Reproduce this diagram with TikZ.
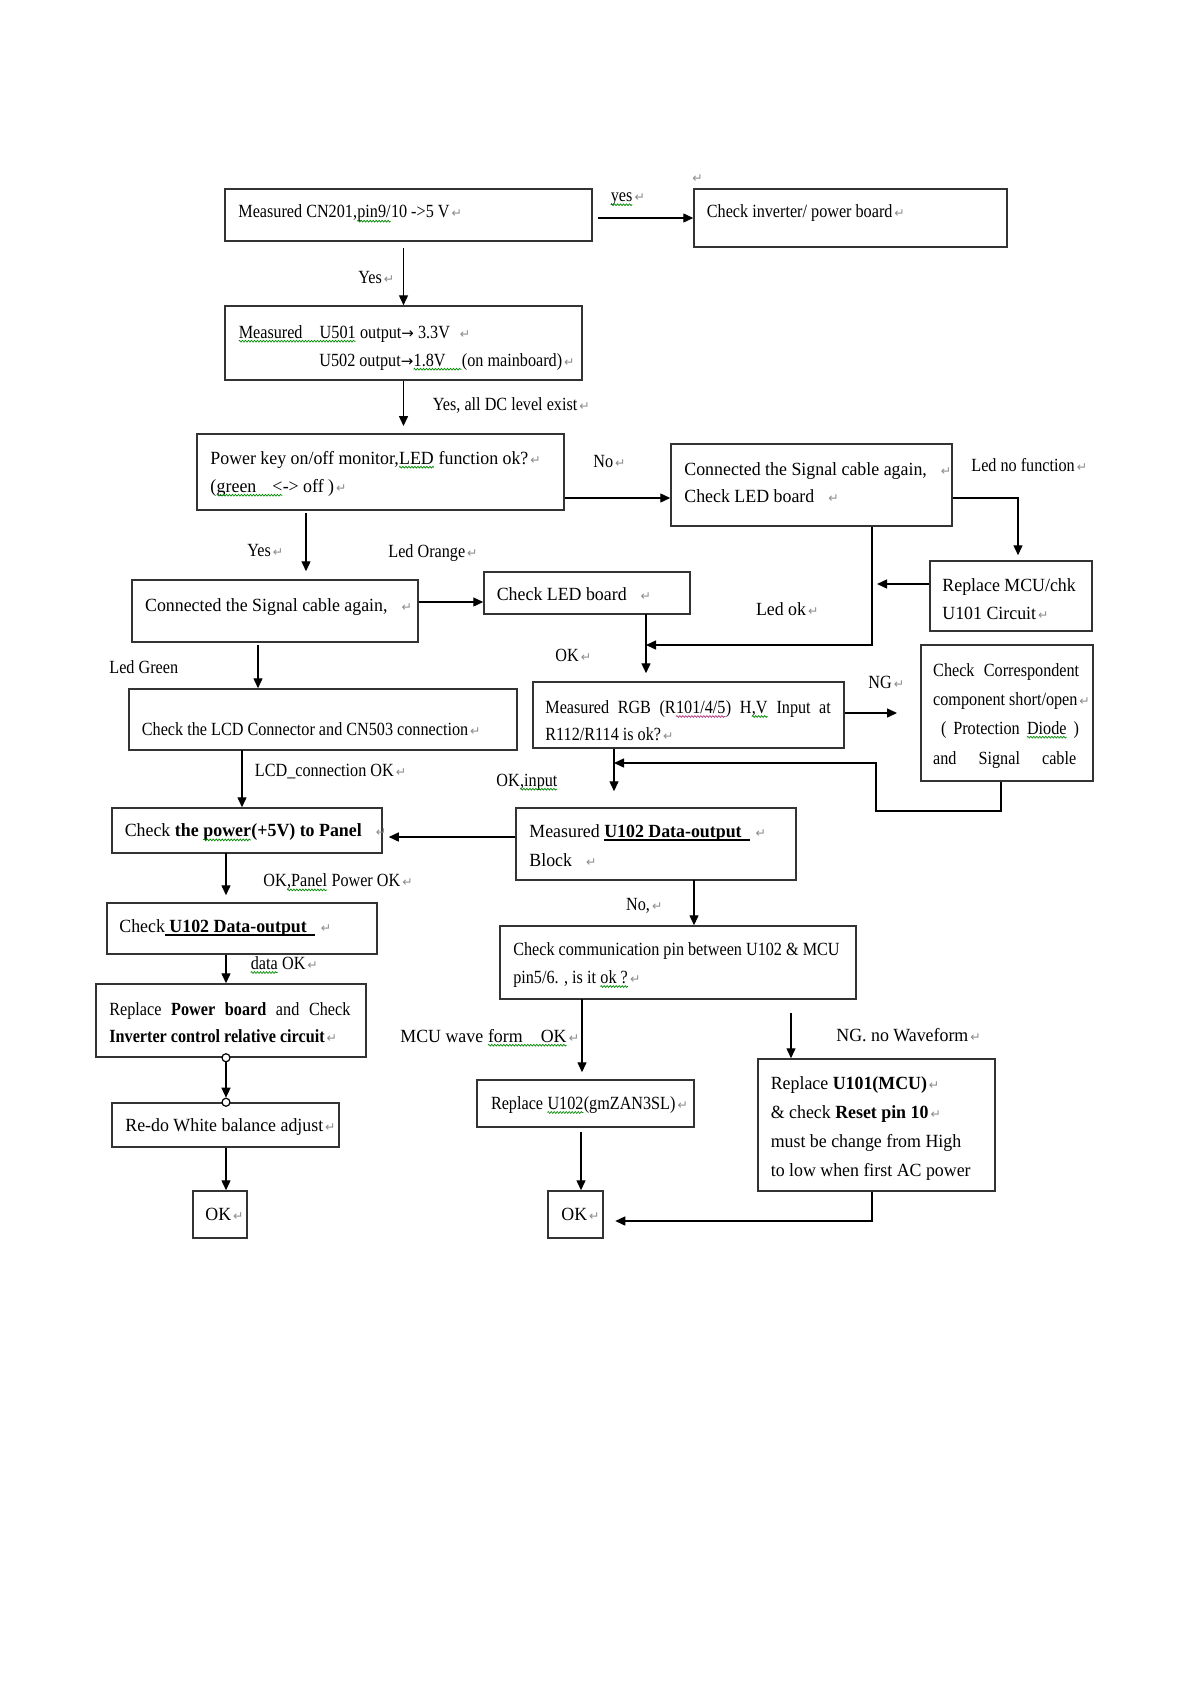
\documentclass[tikz,border=0pt]{standalone}
\usepackage{fontspec}
\setmainfont{Liberation Serif}[FakeStretch=0.87]
\newfontfamily\widefont{Liberation Serif}[FakeStretch=0.96]
\newfontfamily\symfont{DejaVu Sans}
\usetikzlibrary{arrows.meta,fit,decorations.pathmorphing}
\newcommand\pmk{\hspace{1pt}{\symfont\fontsize{6.2}{6}\selectfont\color{black!45}↵}}
\newcommand\rar{{\symfont\fontsize{7.5}{8}\selectfont →}}
\newcommand\cnd{\fontsize{9.3}{14}\selectfont}
\newcommand\wid{\widefont\fontsize{9.3}{14}\selectfont}
\newcommand\ulx[1]{\setbox0\hbox{#1}\rlap{\rule[-1.4pt]{\wd0}{0.55pt}}\box0}
\newcommand\wvc[2]{\tikz[baseline=(wv.base),x=1pt,y=1pt]{\node[inner sep=0pt,outer sep=0pt,anchor=base] (wv) {#2};
  \draw[#1, line width=0.35pt, decorate, decoration={zigzag, amplitude=0.45pt, segment length=1.5pt}] ([yshift=-1.6pt]wv.base west) -- ([yshift=-1.6pt]wv.base east);}}
\newcommand\wv[1]{\wvc{green!55!black}{#1}}
\tikzset{
  box/.style={draw=black!80, line width=0.75pt, inner sep=0pt},
  arr/.style={draw=black, line width=0.7pt, -{Triangle[length=5pt,width=4.5pt]}},
  tc/.style={inner sep=0pt, anchor=base west, font=\cnd},
  tw/.style={inner sep=0pt, anchor=base west, font=\wid},
  dot/.style={circle, draw=black, fill=white, inner sep=0pt, minimum size=4pt, line width=0.6pt}
}
\begin{document}
\begin{tikzpicture}[x=0.5pt,y=-0.5pt]
\fill[white] (0,0) rectangle (1191,1685);
\useasboundingbox (0,0) rectangle (1191,1685);
% boxes
\node[box, fit={(225,189) (592,241)}] (A) {};
\node[box, fit={(694,189) (1007,247)}] (D) {};
\node[box, fit={(225,306) (582,380)}] (B) {};
\node[box, fit={(197,434) (564,510)}] (C) {};
\node[box, fit={(671,444) (952,526)}] (E) {};
\node[box, fit={(132,580) (418,642)}] (F) {};
\node[box, fit={(484,572) (690,614)}] (G) {};
\node[box, fit={(930,561) (1092,631)}] (J) {};
\node[box, fit={(129,689) (517,750)}] (H) {};
\node[box, fit={(533,682) (844,748)}] (I) {};
\node[box, fit={(921,645) (1093,781)}] (K) {};
\node[box, fit={(112,808) (382,853)}] (M) {};
\node[box, fit={(516,808) (796,880)}] (L) {};
\node[box, fit={(107,903) (377,954)}] (N) {};
\node[box, fit={(500,926) (856,999)}] (Q) {};
\node[box, fit={(96,984) (366,1057)}] (O) {};
\node[box, fit={(477,1080) (694,1127)}] (R) {};
\node[box, fit={(758,1059) (995,1191)}] (S) {};
\node[box, fit={(112,1103) (339,1147)}] (P) {};
\node[box, fit={(193,1191) (247,1238)}] (T) {};
\node[box, fit={(548,1191) (603,1238)}] (U) {};
% helper coordinates
\coordinate (cE) at (872,645);
\coordinate (gi) at (646,614);
\coordinate (ng) at (897,713);
\coordinate (kl) at (876,811);
\coordinate (il) at (614,763);
\coordinate (cf) at (306,510);
\coordinate (fh) at (258,642);
\coordinate (hm) at (242,750);
\coordinate (mn) at (226,853);
\coordinate (lq) at (694,880);
\coordinate (qr) at (582,999);
\coordinate (ss) at (791,1013);
\coordinate (ru) at (581,1127);
% connectors
\draw[arr, shorten <=2.9pt] (A.south -| B.north) -- (B.north);
\draw[arr, shorten <=2.5pt] (A.east |- D.west) -- (D.west);
\draw[arr, shorten >=3.6pt] (B.south) -- (B.south |- C.north);
\draw[arr] ([yshift=-13pt]C.east) -- ([yshift=-13pt]C.east -| E.west);
\draw[arr, shorten >=2.5pt] ([yshift=-6.5pt]E.east) -| ([xshift=3.5pt]J.north);
\draw[arr] (E.south -| cE) -- (cE) -- (cE -| gi);
\draw[arr, shorten >=2.5pt] ([yshift=6pt]J.west) -- ([yshift=6pt]J.west -| cE);
\draw[arr, shorten >=4pt] (gi) -- (gi |- I.north);
\draw[arr] (I.east |- ng) -- (ng);
\draw[arr] ([xshift=-3pt]K.south) |- (kl) -- (kl |- il) -- (il);
\draw[arr, shorten >=8pt] (I.south -| il) -- (L.north -| il);
\draw[arr] ([yshift=4.5pt]F.east) -- ([yshift=4.5pt]F.east -| G.west);
\draw[arr, shorten <=1.5pt, shorten >=4pt] (cf) -- (cf |- F.north);
\draw[arr, shorten <=1.5pt] (fh) -- (fh |- H.north);
\draw[arr] (hm) -- (hm |- M.north);
\draw[arr, shorten >=3pt] ([yshift=3.5pt]L.west) -- ([yshift=3.5pt]L.west -| M.east);
\draw[arr, shorten >=3.5pt] (mn) -- (mn |- N.north);
\draw[arr] (N.south -| mn) -- (O.north -| mn);
\node[dot] (c1) at (O.south -| mn) {};
\node[dot] (c2) at (P.north -| mn) {};
\draw[arr] (c1) -- (c2);
\draw[arr] (P.south -| mn) -- (T.north -| mn);
\draw[arr] (lq) -- (lq |- Q.north);
\draw[arr, shorten >=3.5pt] (qr) -- (qr |- R.north);
\draw[arr] (ss) -- (ss |- S.north);
\draw[arr, shorten <=2.5pt] (ru) -- (ru |- U.north);
\draw[arr, shorten >=5.75pt] ([xshift=-2.25pt]S.south) |- ([yshift=-3.25pt]U.east);
% texts
\node[tc] (tA) at (238,218) {Measured CN201,\wv{pin9/}10 ->5 V\pmk};
\node[tc] (lyes) at (610,201.5) {\wv{yes}\pmk};
\node[tc] (pmD) at (690,183) {\pmk};
\node[tc] (tD) at (706.5,218) {Check inverter/ power board\pmk};
\node[tc] (lY1) at (358,284) {Yes\pmk};
\node[tc] (tB1) at (238,338) {\wv{\makebox[40.5pt][l]{Measured}U501} output\rar\ 3.3V\hspace{4pt}\pmk};
\node[tc] (tB2) at (319,366) {U502 output\rar\wv{1.8V\kern8pt}(on mainboard)\pmk};
\node[tc] (lY2) at (432.5,410) {Yes, all DC level exist\pmk};
\node[tw] (tC1) at (210,464) {Power key on/off monitor,\wv{LED} function ok?\pmk};
\node[tw] (tC2) at (210,492) {(\wv{green\kern8pt<}-> off )\pmk};
\node[tc] (lNo) at (593,467) {No\pmk};
\node[tw] (tE1) at (684,475) {Connected the Signal cable again,\hspace{6pt}\pmk};
\node[tw] (tE2) at (684,502.7) {Check LED board\hspace{6pt}\pmk};
\node[tc] (lLnf) at (971,471.7) {Led no function\pmk};
\node[tc] (lY3) at (247,556.7) {Yes\pmk};
\node[tc] (lLo) at (388,557.3) {Led Orange\pmk};
\node[tw] (tF) at (144.7,611) {Connected the Signal cable again,\hspace{6pt}\pmk};
\node[tw] (tG) at (496.4,600.7) {Check LED board\hspace{6pt}\pmk};
\node[tw] (tJ1) at (942,591) {Replace MCU/chk};
\node[tw] (tJ2) at (942,619.3) {U101 Circuit\pmk};
\node[tw] (lLok) at (755.6,615) {Led ok\pmk};
\node[tc] (lLg) at (109,673.3) {Led Green};
\node[tc] (lOK1) at (555,661.7) {OK\pmk};
\node[tc] (tI1) at (545,713.3) {\makebox[142.75pt][s]{Measured RGB (R\wvc{magenta!70!black}{101/4/5}) H\wv{,V} Input at}};
\node[tc] (tI2) at (545,740.7) {R112/R114 is ok?\pmk};
\node[tc] (lNG) at (868,688.3) {NG\pmk};
\node[tc] (tK1) at (932.8,676) {\makebox[73pt][s]{Check Correspondent}};
\node[tc] (tK2) at (932.8,705.3) {component short/open\pmk};
\node[tc] (tK3) at (940.7,734) {\makebox[69pt][s]{( Protection \wv{Diode} )}};
\node[tc] (tK4) at (932.8,764.3) {\makebox[71.5pt][s]{and Signal cable}};
\node[tc] (tH) at (141.5,735.5) {Check the LCD Connector and CN503 connection\pmk};
\node[tc] (lLCD) at (254.5,776.7) {LCD\_connection OK\pmk};
\node[tc] (lOKin) at (496,786) {OK\wv{,input}};
\node[tw] (tM) at (124.4,836.7) {Check \textbf{the \wv{power}(+5V) to Panel}\hspace{6pt}\pmk};
\node[tw] (tL1) at (529,837.7) {Measured \ulx{\textbf{U102 Data-output}\kern4pt}\hspace{2pt}\pmk};
\node[tw] (tL2) at (529,866) {Block\hspace{6pt}\pmk};
\node[tc] (lOKp) at (263,886.7) {OK\wv{,Panel} Power OK\pmk};
\node[tw] (tN) at (119,932.7) {Check\ulx{\ \textbf{U102 Data-output}\kern4pt}\hspace{2pt}\pmk};
\node[tc] (lNo2) at (625.8,910) {No,\pmk};
\node[tc] (tQ1) at (512.9,955.7) {Check communication pin between U102 \& MCU};
\node[tc] (tQ2) at (512.9,983.3) {pin5/6. , is it \wv{ok ?}\pmk};
\node[tc] (ldata) at (250,969.3) {\wv{data} OK\pmk};
\node[tc] (tO1) at (109,1015) {\makebox[120.5pt][s]{Replace \textbf{Power board} and Check}};
\node[tc] (tO2) at (109,1042.7) {\textbf{Inverter control relative circuit}\pmk};
\node[tw] (lMCU) at (400,1042) {MCU wave \wv{form\kern9pt OK}\pmk};
\node[tw] (lNGw) at (836,1041.7) {NG. no Waveform\pmk};
\node[tc] (tR) at (490.6,1109.3) {Replace \wv{U102}(gmZAN3SL)\pmk};
\node[tw] (tS1) at (770.4,1089.3) {Replace \textbf{U101(MCU)}\pmk};
\node[tw] (tS2) at (770.4,1118.3) {\& check \textbf{Reset pin 10}\pmk};
\node[tw] (tS3) at (770.4,1147.7) {must be change from High};
\node[tw] (tS4) at (770.4,1176) {to low when first AC power};
\node[tw] (tP) at (125,1131) {Re-do White balance adjust\pmk};
\node[tw] (tT) at (205,1220) {OK\pmk};
\node[tw] (tU) at (561,1220) {OK\pmk};
\end{tikzpicture}
\end{document}
